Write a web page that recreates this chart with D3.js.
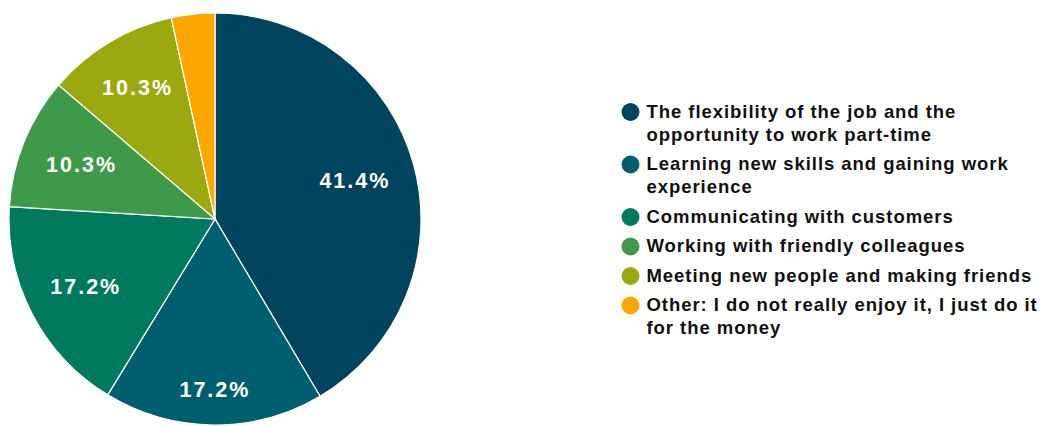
<!DOCTYPE html>
<html>
<head>
<meta charset="utf-8">
<script src="https://cdn.jsdelivr.net/npm/d3@7"></script>
<style>
  html, body { margin: 0; padding: 0; background: #fff; }
  svg { display: block; }
</style>
</head>
<body>
<svg id="chart" width="1041" height="426"></svg>
<script>
// Reasons respondents enjoy their part-time job
const categories = [
  "The flexibility of the job and the opportunity to work part-time",
  "Learning new skills and gaining work experience",
  "Communicating with customers",
  "Working with friendly colleagues",
  "Meeting new people and making friends",
  "Other: I do not really enjoy it, I just do it for the money"
];
const legendLines = [
  ["The flexibility of the job and the", "opportunity to work part-time"],
  ["Learning new skills and gaining work", "experience"],
  ["Communicating with customers"],
  ["Working with friendly colleagues"],
  ["Meeting new people and making friends"],
  ["Other: I do not really enjoy it, I just do it", "for the money"]
];
const values = [41.4, 17.2, 17.2, 10.3, 10.3, 3.4];
const colors = ["#00445e", "#005f6e", "#007a5f", "#3e9a48", "#9ba80f", "#ffa600"];

const svg = d3.select("#chart");
const cx = 215, cy = 219, radius = 206;
const font = "'Liberation Sans', Arial, sans-serif";

// Distance of each percentage label from the pie centre (best-fit placement)
const labelRadii = [144, 171, 147, 145, 153, 0];

const data = categories.map((c, i) => ({ name: c, value: values[i], color: colors[i], lines: legendLines[i], lr: labelRadii[i] }));

const pie = d3.pie().value(d => d.value).sort(null);
const arc = d3.arc().innerRadius(0).outerRadius(radius);

const g = svg.append("g").attr("transform", `translate(${cx},${cy})`);
const arcs = pie(data);

g.selectAll("path.slice")
  .data(arcs)
  .join("path")
  .attr("class", "slice")
  .attr("d", arc)
  .attr("fill", d => d.data.color)
  .attr("stroke", "#ffffff")
  .attr("stroke-width", 1.2);

// Percentage labels (smallest slice left unlabelled)
g.selectAll("text.pct")
  .data(arcs.filter(d => d.data.value >= 5))
  .join("text")
  .attr("class", "pct")
  .attr("transform", d => {
    const a = (d.startAngle + d.endAngle) / 2;
    const r = d.data.lr;
    return `translate(${Math.sin(a) * r + 1},${-Math.cos(a) * r})`;
  })
  .attr("text-anchor", "middle")
  .attr("dominant-baseline", "central")
  .attr("fill", "#ffffff")
  .attr("font-family", font)
  .attr("font-weight", "bold")
  .attr("font-size", "21.5px")
  .attr("letter-spacing", "2px")
  .text(d => d.data.value.toFixed(1) + "%");

// Legend
const legend = svg.append("g").attr("transform", "translate(630.5,0)");
const lineH = 23;
const itemGap = 6.5;
let y = 111;
data.forEach(d => {
  const item = legend.append("g");
  item.append("circle")
    .attr("cx", 0).attr("cy", y + 1)
    .attr("r", 9)
    .attr("fill", d.color);
  d.lines.forEach((ln, j) => {
    item.append("text")
      .attr("x", 16)
      .attr("y", y + j * lineH)
      .attr("dominant-baseline", "central")
      .attr("font-family", font)
      .attr("font-weight", "bold")
      .attr("font-size", "18.5px")
      .attr("letter-spacing", "0.95px")
      .attr("fill", "#111111")
      .text(ln);
  });
  y += d.lines.length * lineH + itemGap;
});
</script>
</body>
</html>
